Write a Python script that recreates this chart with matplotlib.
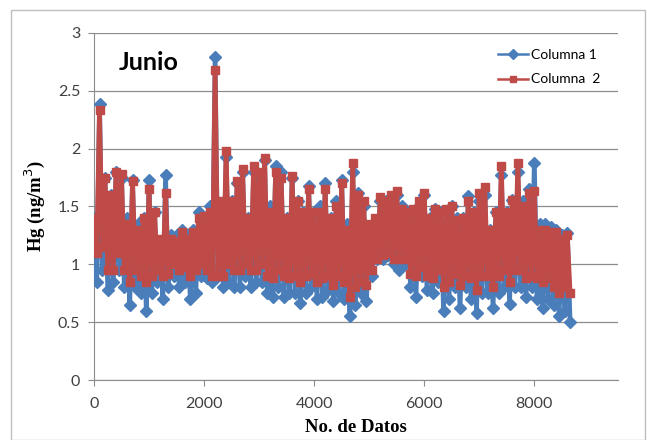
import numpy as np
import matplotlib.pyplot as plt
from matplotlib.patches import Rectangle
from matplotlib.lines import Line2D

# envelope values, one pair (high, low) per 100 datos
datos = np.arange(0, 8700, 100)

col1_hi = [1.40, 2.39, 1.75, 1.60, 1.80, 1.75, 1.40, 1.73, 1.35, 1.40,
           1.73, 1.45, 1.20, 1.77, 1.25, 1.25, 1.30, 1.25, 1.30, 1.45,
           1.40, 1.50, 2.79, 1.50, 1.93, 1.55, 1.70, 1.80, 1.40, 1.80,
           1.75, 1.90, 1.50, 1.85, 1.80, 1.40, 1.75, 1.55, 1.45, 1.68,
           1.45, 1.50, 1.70, 1.40, 1.55, 1.73, 1.35, 1.80, 1.62, 1.50,
           1.30, 1.35, 1.55, 1.55, 1.58, 1.60, 1.50, 1.45, 1.45, 1.50,
           1.60, 1.40, 1.48, 1.45, 1.45, 1.50, 1.40, 1.40, 1.59, 1.45,
           1.55, 1.60, 1.30, 1.45, 1.77, 1.45, 1.56, 1.80, 1.55, 1.65,
           1.88, 1.35, 1.35, 1.32, 1.30, 1.25, 1.27]
col1_lo = [0.85, 0.95, 0.78, 0.85, 0.95, 0.80, 0.65, 0.80, 0.75, 0.60,
           0.75, 0.85, 0.70, 0.80, 0.90, 0.80, 0.85, 0.70, 0.75, 0.90,
           0.88, 0.85, 0.90, 0.80, 0.85, 0.80, 0.80, 0.90, 0.80, 0.85,
           0.85, 0.75, 0.72, 0.80, 0.72, 0.75, 0.75, 0.67, 0.75, 0.80,
           0.70, 0.72, 0.78, 0.68, 0.75, 0.70, 0.55, 0.65, 0.75, 0.68,
           0.90, 1.05, 1.05, 1.08, 1.00, 0.95, 1.00, 0.80, 0.72, 0.90,
           0.78, 0.75, 0.85, 0.60, 0.70, 0.80, 0.62, 0.80, 0.70, 0.58,
           0.75, 0.75, 0.62, 0.75, 0.80, 0.66, 0.80, 0.80, 0.72, 0.80,
           0.70, 0.62, 0.70, 0.65, 0.55, 0.60, 0.50]
col2_hi = [1.40, 2.33, 1.75, 1.60, 1.80, 1.78, 1.35, 1.72, 1.30, 1.40,
           1.65, 1.45, 1.22, 1.62, 1.22, 1.20, 1.28, 1.22, 1.28, 1.40,
           1.42, 1.45, 2.68, 1.55, 1.98, 1.55, 1.72, 1.82, 1.40, 1.85,
           1.80, 1.92, 1.45, 1.80, 1.75, 1.40, 1.76, 1.55, 1.45, 1.65,
           1.45, 1.45, 1.65, 1.40, 1.50, 1.70, 1.30, 1.88, 1.60, 1.55,
           1.35, 1.40, 1.58, 1.55, 1.60, 1.63, 1.48, 1.45, 1.48, 1.55,
           1.62, 1.40, 1.48, 1.45, 1.48, 1.50, 1.38, 1.40, 1.55, 1.45,
           1.62, 1.67, 1.30, 1.45, 1.85, 1.45, 1.56, 1.88, 1.50, 1.62,
           1.63, 1.30, 1.30, 1.28, 1.28, 1.22, 1.25]
col2_lo = [1.10, 1.15, 0.95, 0.95, 1.10, 0.95, 0.85, 0.95, 0.90, 0.85,
           0.90, 0.95, 0.90, 0.92, 1.00, 0.95, 0.98, 0.90, 0.95, 1.00,
           0.95, 0.90, 0.90, 0.90, 1.00, 0.95, 0.95, 1.00, 0.95, 0.95,
           1.00, 0.90, 0.88, 0.95, 0.90, 0.88, 0.90, 0.85, 0.90, 0.92,
           0.85, 0.88, 0.90, 0.82, 0.90, 0.85, 0.72, 0.80, 0.85, 0.82,
           0.95, 1.05, 1.08, 1.10, 1.05, 1.05, 1.05, 0.92, 0.90, 0.98,
           0.90, 0.88, 0.95, 0.80, 0.85, 0.92, 0.82, 0.90, 0.88, 0.78,
           0.90, 0.90, 0.80, 0.90, 0.95, 0.85, 0.95, 0.95, 0.88, 0.90,
           0.88, 0.85, 0.88, 0.80, 0.75, 0.80, 0.75]

xticks = [0, 2000, 4000, 6000, 8000]
yticks = [0, 0.5, 1, 1.5, 2, 2.5, 3]

BLUE = '#4A7EBB'
RED = '#BE4B48'


def zigzag(hi, lo):
    x = np.empty(2 * len(datos))
    y = np.empty(2 * len(datos))
    x[0::2], x[1::2] = datos, datos + 50
    y[0::2], y[1::2] = hi, lo
    return x, y


fig = plt.figure(figsize=(6.47, 4.4), dpi=100)
fig.patches.append(Rectangle((11 / 647, 0), 634 / 647, 430 / 440, transform=fig.transFigure,
                             fill=False, edgecolor='#BFBFBF', lw=1))
ax = fig.add_axes([94 / 647, 1 - 380 / 440, 524 / 647, 347 / 440])

x1, y1 = zigzag(col1_hi, col1_lo)
x2, y2 = zigzag(col2_hi, col2_lo)
ax.plot(x1, y1, color=BLUE, lw=3.4, marker='D', ms=6, mec=BLUE, zorder=3)
ax.plot(x2, y2, color=RED, lw=3.4, marker='s', ms=5.5, mec=RED, zorder=4)

ax.set_xlim(0, 9520)
ax.set_ylim(0, 3)
ax.set_xticks(xticks)
ax.set_yticks(yticks)
ax.set_yticklabels(['0', '0.5', '1', '1.5', '2', '2.5', '3'])
ax.grid(axis='y', color='#8C8C8C', lw=0.9)
ax.set_axisbelow(True)
for s in ['top', 'right']:
    ax.spines[s].set_visible(False)
for s in ['left', 'bottom']:
    ax.spines[s].set_color('#8C8C8C')
ax.tick_params(axis='x', length=4, color='#8C8C8C', pad=8, labelsize=11.5, labelcolor='#404040')
ax.tick_params(axis='y', length=4, color='#8C8C8C', pad=6, labelsize=11.5, labelcolor='#404040')
for t in ax.get_xticklabels() + ax.get_yticklabels():
    t.set_family('Lato')

ax.set_xlabel('No. de Datos', family='Liberation Serif', weight='bold', fontsize=13.5, labelpad=6)
ax.set_ylabel('Hg (ng/m$^3$)', family='Liberation Serif', weight='bold', fontsize=13.5, labelpad=8)
fig.text(119 / 647, 1 - 70 / 440, 'Junio', fontsize=18, weight='bold', family='Lato')

handles = [Line2D([], [], color=BLUE, lw=1.8, marker='D', ms=5, mec=BLUE),
           Line2D([], [], color=RED, lw=1.8, marker='s', ms=5, mec=RED)]
ax.legend(handles, ['Columna 1', 'Columna  2'], loc='upper right', bbox_to_anchor=(0.99, 0.99),
          frameon=False, prop={'family': 'Lato', 'size': 10}, handlelength=2.2,
          labelspacing=0.9, handletextpad=0.2)

fig.savefig('out.png', dpi=100)
